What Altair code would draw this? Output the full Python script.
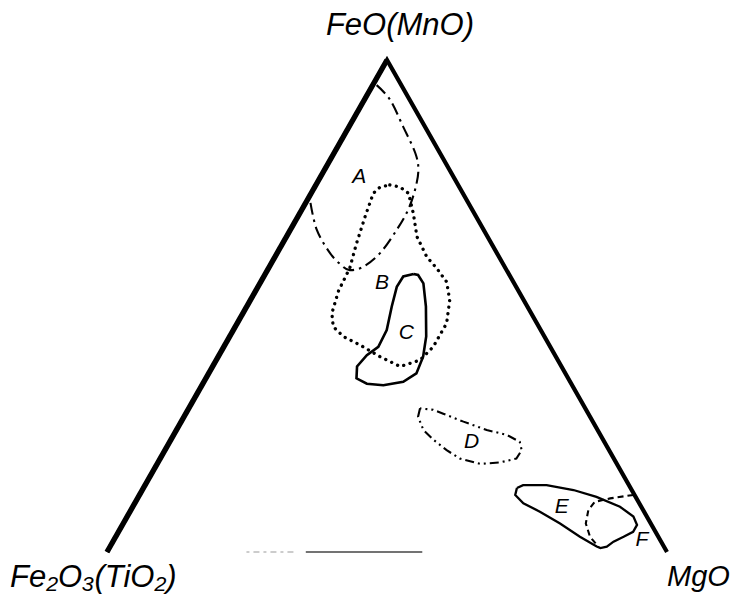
import altair as alt
import pandas as pd

# Ternary diagram: apex FeO(MnO), right MgO, left Fe2O3(TiO2) = 100 - FeO - MgO
# Field outlines given as (FeO %, MgO %)
A_FEO = [94.9, 91.9, 86.4, 81.1, 77.6, 73.6, 69.5, 65.5, 60.8, 58.0, 57.3, 58.3, 60.8, 65.5, 71.2]
A_MGO = [0.7, 4.6, 9.7, 14.5, 16.8, 18.2, 19.0, 19.0, 18.4, 16.8, 14.7, 12.7, 9.4, 4.7, 0.7]

B_FEO = [74.6, 74.2, 72.9, 68.8, 64.1, 60.0, 57.7, 54.9, 51.2, 46.5, 41.7, 39.0, 37.7, 39.7,
         42.1, 43.8, 45.8, 48.5, 53.1, 57.7, 62.7, 68.2, 72.9, 74.2]
B_MGO = [13.2, 15.2, 17.4, 20.3, 23.3, 27.1, 30.0, 33.2, 35.6, 37.4, 37.4, 36.4, 33.5, 28.9,
         24.1, 20.3, 17.5, 15.9, 14.8, 14.5, 13.2, 12.0, 11.1, 11.7]

C_FEO = [56.5, 56.0, 53.9, 49.9, 45.1, 41.7, 40.0, 37.7, 35.3, 34.2, 33.9, 34.6, 36.3, 39.7,
         43.8, 49.9, 54.6, 56.3]
C_MGO = [26.5, 24.9, 24.8, 25.9, 27.4, 27.6, 26.4, 25.8, 26.9, 29.3, 32.4, 35.6, 37.1, 36.6,
         35.1, 32.0, 29.2, 27.4]

D_FEO = [29.2, 27.5, 24.8, 22.8, 20.7, 19.0, 17.9, 18.2, 19.0, 20.7, 22.4, 23.8, 24.8, 26.5, 28.1, 28.9]
D_MGO = [41.3, 41.8, 44.1, 46.9, 50.3, 53.5, 57.7, 61.1, 63.6, 63.7, 62.5, 59.5, 55.4, 50.4, 46.0, 43.8]

E_FEO = [13.0, 13.6, 13.6, 12.6, 11.2, 9.2, 7.2, 5.5, 4.1, 3.1, 2.1, 1.1, 0.8, 1.1, 3.1, 5.8, 8.2, 9.9, 11.6]
E_MGO = [66.7, 67.5, 71.7, 77.0, 81.8, 87.0, 90.4, 91.9, 91.9, 90.7, 89.4, 88.7, 87.7, 86.9, 82.9, 78.0, 73.2, 69.4, 67.1]

F_FEO = [11.6, 10.9, 10.2, 8.5, 5.8, 3.1, 1.0]
F_MGO = [88.2, 84.4, 82.0, 81.7, 82.6, 84.7, 87.3]

FIELD_NAMES = ["A", "B", "C", "D", "E", "F"]
LABEL_FEO = [76.3, 54.6, 44.5, 22.4, 9.2, 2.4]
LABEL_MGO = [6.9, 21.8, 31.2, 53.9, 76.6, 94.3]

# triangle vertices: Fe2O3 (left), FeO (apex), MgO (right)
VERT_NAMES = ["Fe\u2082O\u2083(TiO\u2082)", "FeO(MnO)", "MgO"]
VERT_FEO = [0, 100, 0]
VERT_MGO = [0, 0, 100]

# faint fragment of the base line (MgO position along base)
BASE_DASH = [24.9, 33.4]
BASE_SOLID = [35.5, 56.3]


def tern(feo, mgo, closed=False):
    f = list(feo)
    m = list(mgo)
    if closed:
        f = f + [f[0]]
        m = m + [m[0]]
    return pd.DataFrame({
        "i": range(len(f)),
        "x": [mm + ff / 2 for ff, mm in zip(f, m)],
        "y": f,
    })


W, H = 560, 492
xs = alt.Scale(domain=[0, 100], nice=False, zero=False)
ys = alt.Scale(domain=[0, 100], nice=False, zero=False)
X = alt.X("x:Q", scale=xs, axis=None)
Y = alt.Y("y:Q", scale=ys, axis=None)
O = alt.Order("i:Q")


def line(df, color="black", **kw):
    return alt.Chart(df).mark_line(color=color, **kw).encode(x=X, y=Y, order=O)


sides = tern(VERT_FEO, VERT_MGO)
left_side = tern(VERT_FEO[:2], VERT_MGO[:2])

layers = [
    line(sides, strokeWidth=4.2, strokeJoin="miter", strokeMiterLimit=20),
    line(left_side, strokeWidth=5.4, strokeCap="butt"),
    line(tern([0, 0], BASE_DASH), color="#999", strokeWidth=1, strokeDash=[3, 4, 6, 4]),
    line(tern([0, 0], BASE_SOLID), color="#444", strokeWidth=1.3),
    line(tern(A_FEO, A_MGO), strokeWidth=2.1, strokeDash=[12, 5, 2.5, 5], interpolate="cardinal"),
    line(tern(B_FEO, B_MGO, True), strokeWidth=3.3, strokeDash=[0.1, 6.5], strokeCap="round"),
    line(tern(C_FEO, C_MGO, True), strokeWidth=2.6),
    line(tern(D_FEO, D_MGO, True), strokeWidth=2.1, strokeDash=[9, 4, 2, 4, 2, 4]),
    line(tern(E_FEO, E_MGO, True), strokeWidth=2.3),
    line(tern(F_FEO, F_MGO), strokeWidth=2.1, strokeDash=[6, 4]),
]

lab = tern(LABEL_FEO, LABEL_MGO)
lab["t"] = FIELD_NAMES
layers.append(
    alt.Chart(lab).mark_text(font="Liberation Sans", fontStyle="italic", fontSize=21,
                             align="center", baseline="middle", color="black")
    .encode(x=X, y=Y, text="t:N")
)

vdf = tern(VERT_FEO, VERT_MGO)
vdf["t"] = VERT_NAMES
base_txt = dict(font="Liberation Sans", fontStyle="italic", color="black", baseline="alphabetic")
layers.append(alt.Chart(vdf.iloc[[0]]).mark_text(align="left", dx=-97, dy=35, fontSize=31, **base_txt)
              .encode(x=X, y=Y, text="t:N"))
layers.append(alt.Chart(vdf.iloc[[1]]).mark_text(align="center", dx=13, dy=-25, fontSize=31, **base_txt)
              .encode(x=X, y=Y, text="t:N"))
layers.append(alt.Chart(vdf.iloc[[2]]).mark_text(align="left", dx=0, dy=34, fontSize=29, **base_txt)
              .encode(x=X, y=Y, text="t:N"))

chart = alt.layer(*layers).properties(
    width=W, height=H,
    autosize=alt.AutoSizeParams(type="none"),
    padding={"left": 99, "top": 52, "right": 65, "bottom": 45},
    background="white",
).configure_view(stroke=None)

chart.save("out.html", embed_options={"renderer": "svg", "actions": False})
